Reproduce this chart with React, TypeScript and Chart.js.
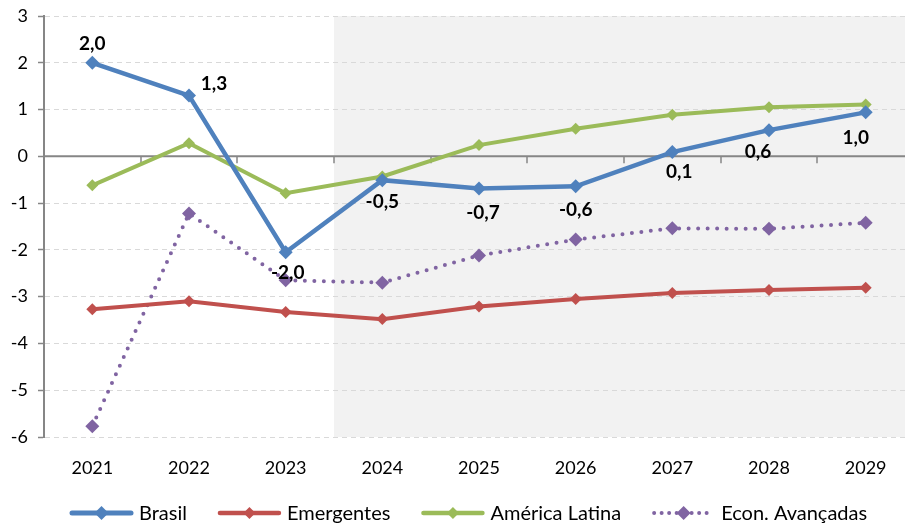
import React, { useEffect, useRef } from 'react';
import { Chart, registerables } from 'chart.js';

Chart.register(...registerables);

// ---- data ----
const years = ['2021', '2022', '2023', '2024', '2025', '2026', '2027', '2028', '2029'];
const brasil = [2.0, 1.3, -2.05, -0.51, -0.69, -0.64, 0.09, 0.56, 0.94];
const brasilLabels = ['2,0', '1,3', '-2,0', '-0,5', '-0,7', '-0,6', '0,1', '0,6', '1,0'];
const emergentes = [-3.27, -3.1, -3.33, -3.48, -3.21, -3.05, -2.92, -2.86, -2.81];
const americaLatina = [-0.62, 0.28, -0.79, -0.43, 0.24, 0.59, 0.89, 1.05, 1.11];
const econAvancadas = [-5.77, -1.22, -2.65, -2.7, -2.12, -1.78, -1.54, -1.55, -1.42];
const seriesNames = ['Brasil', 'Emergentes', 'América Latina', 'Econ. Avançadas'];
const yMin = -6;
const yMax = 3;
const projectionStart = '2024';

// ---- styles ----
const FONT = 'Lato, "Open Sans", sans-serif';
const colors = ['#4f81bd', '#c0504d', '#9bbb59', '#8064a2'];
const PLOT_RIGHT = 914; // plot area continues slightly past the visible frame
// label offsets (dx, dy) relative to each Brasil point
const labelOffsets: [number, number][] = [
  [0, -19], [25, -12], [2, 21], [0, 22], [4, 24], [0, 24], [7, 20], [-11, 22], [-10, 26],
];

const shadePlugin = {
  id: 'shade',
  beforeDraw(chart: any) {
    const { ctx, chartArea, scales } = chart;
    const idx = years.indexOf(projectionStart);
    const x0 = (scales.x.getPixelForValue(idx - 1) + scales.x.getPixelForValue(idx)) / 2;
    ctx.save();
    ctx.fillStyle = '#f2f2f2';
    ctx.fillRect(x0, chartArea.top, chartArea.right - x0, chartArea.bottom - chartArea.top);
    ctx.restore();
  },
};

const zeroLinePlugin = {
  id: 'zeroLine',
  beforeDatasetsDraw(chart: any) {
    const { ctx, chartArea, scales } = chart;
    const y0 = scales.y.getPixelForValue(0);
    const step = scales.x.getPixelForValue(1) - scales.x.getPixelForValue(0);
    ctx.save();
    ctx.strokeStyle = '#868686';
    ctx.lineWidth = 2;
    ctx.beginPath();
    ctx.moveTo(chartArea.left, y0);
    ctx.lineTo(chartArea.right, y0);
    ctx.stroke();
    ctx.lineWidth = 1.5;
    for (let i = 1; i < years.length; i++) {
      const xb = Math.round(scales.x.getPixelForValue(i) - step / 2);
      ctx.beginPath();
      ctx.moveTo(xb, y0);
      ctx.lineTo(xb, y0 + 7);
      ctx.stroke();
    }
    ctx.restore();
  },
};

const labelPlugin = {
  id: 'brasilLabels',
  afterDatasetsDraw(chart: any) {
    const { ctx } = chart;
    const meta = chart.getDatasetMeta(0);
    ctx.save();
    ctx.font = `bold 19px ${FONT}`;
    ctx.fillStyle = '#000';
    ctx.textAlign = 'center';
    ctx.textBaseline = 'middle';
    meta.data.forEach((pt: any, i: number) => {
      const [dx, dy] = labelOffsets[i];
      ctx.fillText(brasilLabels[i], pt.x + dx, pt.y + dy);
    });
    ctx.restore();
  },
};

const legendPlugin = {
  id: 'customLegend',
  afterDraw(chart: any) {
    const { ctx } = chart;
    const sampleW = 63;
    const gapText = 6;
    const gapItem = 31;
    const startX = 70;
    const y = 513;
    ctx.save();
    ctx.font = `20px ${FONT}`;
    const widths = seriesNames.map((n) => ctx.measureText(n).width);
    let x = startX;
    chart.data.datasets.forEach((ds: any, i: number) => {
      ctx.save();
      ctx.strokeStyle = ds.borderColor;
      ctx.lineWidth = ds.borderDash ? ds.borderWidth : ds.borderWidth + 0.5;
      ctx.lineCap = 'round';
      ctx.setLineDash(ds.borderDash ? [0, 7.5] : []);
      ctx.beginPath();
      ctx.moveTo(x + 2, y);
      ctx.lineTo(x + sampleW - 2, y);
      ctx.stroke();
      ctx.setLineDash([]);
      const r = ds.pointRadius;
      const cx = x + sampleW / 2;
      ctx.fillStyle = ds.pointBackgroundColor;
      ctx.beginPath();
      ctx.moveTo(cx, y - r);
      ctx.lineTo(cx + r, y);
      ctx.lineTo(cx, y + r);
      ctx.lineTo(cx - r, y);
      ctx.closePath();
      ctx.fill();
      ctx.restore();
      ctx.fillStyle = '#000';
      ctx.textAlign = 'left';
      ctx.textBaseline = 'middle';
      ctx.fillText(seriesNames[i], x + sampleW + gapText, y + 1);
      x += sampleW + gapText + widths[i] + gapItem;
    });
    ctx.restore();
  },
};

export default function App() {
  const ref = useRef<HTMLCanvasElement | null>(null);
  const wrapRef = useRef<HTMLDivElement | null>(null);
  useEffect(() => {
    if (!ref.current) return;
    const mk = (i: number, data: number[], width: number, radius: number, extra: any = {}) => ({
      label: seriesNames[i],
      data,
      borderColor: colors[i],
      backgroundColor: colors[i],
      pointBackgroundColor: colors[i],
      pointBorderColor: colors[i],
      borderWidth: width,
      pointStyle: 'rectRot',
      pointRadius: radius,
      pointBorderWidth: 0,
      tension: 0,
      fill: false,
      ...extra,
    });
    const chart = new Chart(ref.current, {
      type: 'line',
      data: {
        labels: years,
        datasets: [
          mk(0, brasil, 4.5, 7),
          mk(1, emergentes, 4, 6),
          mk(2, americaLatina, 4, 6),
          mk(3, econAvancadas, 4, 7, { borderDash: [0, 9.5], borderCapStyle: 'round' }),
        ],
      },
      options: {
        responsive: true,
        maintainAspectRatio: false,
        devicePixelRatio: 1,
        animation: false,
        events: [],
        layout: { padding: { left: 0, top: 16, right: 0, bottom: 0 } },
        plugins: { legend: { display: false }, tooltip: { enabled: false } },
        scales: {
          x: {
            type: 'category',
            offset: true,
            grid: { display: false },
            border: { display: false },
            ticks: { color: '#000', font: { family: FONT, size: 18 }, padding: 12, maxRotation: 0 },
            afterFit(scale: any) {
              scale.height = 89;
              scale.paddingLeft = 0;
              scale.paddingRight = 0;
            },
          },
          y: {
            min: yMin,
            max: yMax,
            ticks: { stepSize: 1, color: '#000', font: { family: FONT, size: 18 }, padding: 10 },
            grid: {
              color: (c: any) => (c.tick && c.tick.value === 0 ? 'rgba(0,0,0,0)' : '#d9d9d9'),
              lineWidth: 1,
              tickColor: '#868686',
              tickLength: 6,
              tickWidth: 1.5,
            },
            border: { display: true, color: '#868686', width: 2, dash: [5, 4] },
            afterFit(scale: any) {
              scale.width = 44;
              scale.paddingTop = 0;
              scale.paddingBottom = 0;
            },
          },
        },
      },
      plugins: [shadePlugin, zeroLinePlugin, labelPlugin, legendPlugin],
    } as any);
    const extra = Math.round(PLOT_RIGHT - chart.chartArea.right);
    if (extra !== 0 && wrapRef.current) {
      const w = chart.width + extra;
      wrapRef.current.style.width = `${w}px`;
      chart.resize(w, 526);
    }
    return () => chart.destroy();
  }, []);
  return (
    <div style={{ position: 'fixed', left: 0, top: 0, width: 905, height: 526, overflow: 'hidden', background: '#fff' }}>
      <div ref={wrapRef} style={{ position: 'relative', width: PLOT_RIGHT, height: 526 }}>
        <canvas ref={ref} />
      </div>
    </div>
  );
}
